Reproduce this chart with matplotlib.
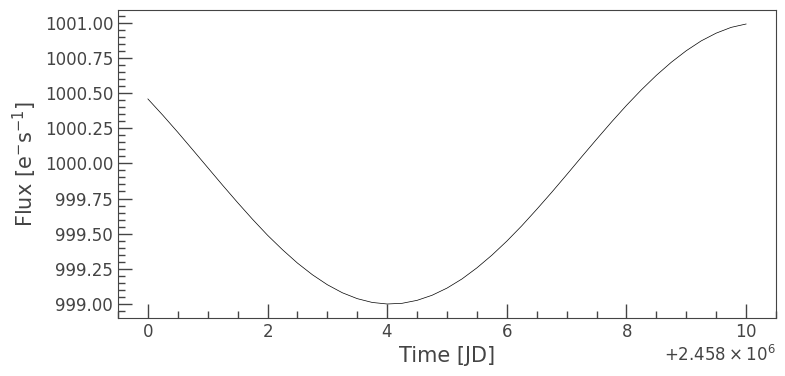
import matplotlib
matplotlib.use("Agg")
import matplotlib.pyplot as plt
from matplotlib.ticker import MultipleLocator, AutoMinorLocator

# Light curve values (time in JD, flux in e-/s)
tempo = [2458000.0, 2458000.25, 2458000.5, 2458000.75, 2458001.0, 2458001.25,
         2458001.5, 2458001.75, 2458002.0, 2458002.25, 2458002.5, 2458002.75,
         2458003.0, 2458003.25, 2458003.5, 2458003.75, 2458004.0, 2458004.25,
         2458004.5, 2458004.75, 2458005.0, 2458005.25, 2458005.5, 2458005.75,
         2458006.0, 2458006.25, 2458006.5, 2458006.75, 2458007.0, 2458007.25,
         2458007.5, 2458007.75, 2458008.0, 2458008.25, 2458008.5, 2458008.75,
         2458009.0, 2458009.25, 2458009.5, 2458009.75, 2458010.0]
fluxo = [1000.458, 1000.342, 1000.221, 1000.096, 999.970, 999.844,
         999.721, 999.602, 999.489, 999.386, 999.291, 999.208,
         999.137, 999.080, 999.038, 999.011, 999.000, 999.005,
         999.026, 999.062, 999.113, 999.178, 999.257, 999.347,
         999.447, 999.556, 999.673, 999.794, 999.919, 1000.046,
         1000.171, 1000.294, 1000.412, 1000.523, 1000.626, 1000.719,
         1000.801, 1000.871, 1000.926, 1000.967, 1000.991]

cor_texto = '#444444'
plt.rcParams['font.family'] = ['DejaVu Sans']
plt.rcParams['axes.formatter.use_mathtext'] = True

fig = plt.figure(figsize=(7.85, 3.76), dpi=100)
ax = fig.add_axes([118 / 785, 1 - 318 / 376, (776 - 118) / 785, (318 - 10) / 376])

ax.plot(tempo, fluxo, color='black', lw=0.5)

ax.set_xlabel('Time [JD]', fontsize=15, color=cor_texto)
ax.set_ylabel(r'Flux [e$^{-}$s$^{-1}$]', fontsize=15, color=cor_texto)

ax.yaxis.set_major_locator(MultipleLocator(0.25))
ax.yaxis.set_minor_locator(AutoMinorLocator(5))
ax.xaxis.set_major_locator(MultipleLocator(2))
ax.xaxis.set_minor_locator(AutoMinorLocator(4))
ax.yaxis.set_major_formatter(plt.FuncFormatter(lambda v, p: f'{v:.2f}'))

ax.tick_params(which='both', direction='in', colors=cor_texto, labelsize=12)
ax.tick_params(which='major', length=10, width=1)
ax.tick_params(which='minor', length=5, width=1)
ax.xaxis.get_offset_text().set_fontsize(12)
ax.xaxis.get_offset_text().set_color(cor_texto)

for s in ax.spines.values():
    s.set_color(cor_texto)

fig.savefig('out.png', dpi=100)
